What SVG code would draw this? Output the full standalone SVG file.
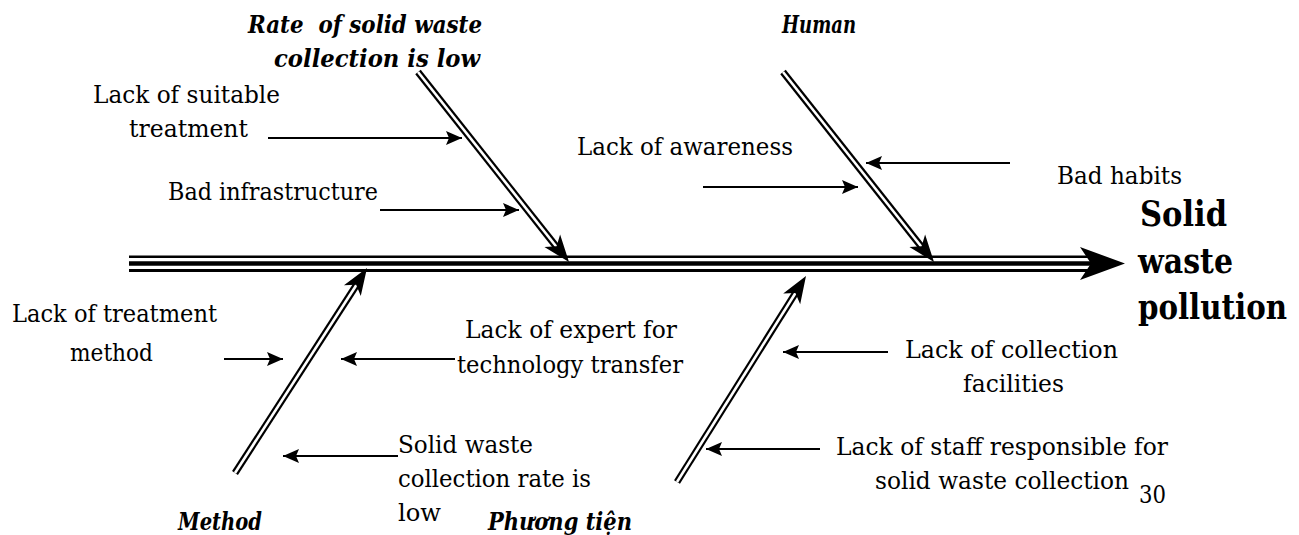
<svg xmlns="http://www.w3.org/2000/svg" width="1299" height="535" viewBox="0 0 1299 535">
  <style>
    text { font-family: "DejaVu Serif", "Liberation Serif", serif; fill: #000; }
    .lbl { font-size: 25px; }
    .cat { font-size: 25px; font-weight: bold; font-style: italic; }
    .effect { font-size: 36px; font-weight: bold; }
    .rib-out { stroke: #000; stroke-width: 7; fill: none; stroke-linecap: butt; }
    .rib-in { stroke: #fff; stroke-width: 2.6; fill: none; stroke-linecap: butt; }
    .cause { stroke: #000; stroke-width: 2; fill: none; marker-end: url(#small-head); }
    .head { fill: #000; }
  </style>
  <defs>
    <marker id="small-head" markerUnits="userSpaceOnUse" markerWidth="20" markerHeight="16" viewBox="-17 -8 18 16" refX="0" refY="0" orient="auto">
      <path d="M0,0 L-16,-7 L-13,0 L-16,7 Z" fill="#000"/>
    </marker>
    <path id="rib-head" d="M0,0 L-27,-10 L-20,0 L-27,10 Z"/>
  </defs>

  <rect width="1299" height="535" fill="#fff"/>

  <!-- main spine: triple line with arrowhead -->
  <g id="spine">
    <line x1="129" y1="256.7" x2="1094" y2="256.7" stroke="#000" stroke-width="2.6"/>
    <line x1="129" y1="263.5" x2="1094" y2="263.5" stroke="#000" stroke-width="4.5"/>
    <line x1="129" y1="270.5" x2="1094" y2="270.5" stroke="#000" stroke-width="2.8"/>
    <path class="head" d="M1125,263.5 L1080,247 L1091,263.5 L1080,280 Z"/>
  </g>

  <!-- category ribs (double lines) -->
  <g id="connectors">
    <g id="rib-rate">
      <line class="rib-out" x1="418" y1="72" x2="559" y2="250"/>
      <line class="rib-in" x1="418" y1="72" x2="559" y2="250"/>
      <use href="#rib-head" class="head" transform="translate(569,262) rotate(51.7)"/>
    </g>
    <g id="rib-human">
      <line class="rib-out" x1="783" y1="72" x2="924" y2="250"/>
      <line class="rib-in" x1="783" y1="72" x2="924" y2="250"/>
      <use href="#rib-head" class="head" transform="translate(934,262) rotate(51.7)"/>
    </g>
    <g id="rib-method">
      <line class="rib-out" x1="235" y1="473" x2="359" y2="281"/>
      <line class="rib-in" x1="235" y1="473" x2="359" y2="281"/>
      <use href="#rib-head" class="head" transform="translate(367,268) rotate(-57.2)"/>
    </g>
    <g id="rib-means">
      <line class="rib-out" x1="677" y1="482" x2="798" y2="289"/>
      <line class="rib-in" x1="677" y1="482" x2="798" y2="289"/>
      <use href="#rib-head" class="head" transform="translate(806,276) rotate(-58)"/>
    </g>

    <!-- cause arrows -->
    <line class="cause" x1="268" y1="138" x2="462" y2="138"/>
    <line class="cause" x1="380" y1="210" x2="519" y2="210"/>
    <line class="cause" x1="703" y1="187" x2="858" y2="187"/>
    <line class="cause" x1="1010" y1="163" x2="866" y2="163"/>
    <line class="cause" x1="224" y1="359" x2="283" y2="359"/>
    <line class="cause" x1="455" y1="359" x2="341" y2="359"/>
    <line class="cause" x1="398" y1="456" x2="283" y2="456"/>
    <line class="cause" x1="888" y1="352" x2="783" y2="352"/>
    <line class="cause" x1="820" y1="449" x2="706" y2="449"/>
  </g>

  <!-- effect -->
  <g id="node-effect">
    <text class="effect" x="1140" y="226" textLength="87" lengthAdjust="spacingAndGlyphs">Solid</text>
    <text class="effect" x="1138" y="273" textLength="95" lengthAdjust="spacingAndGlyphs">waste</text>
    <text class="effect" x="1138" y="319" textLength="149" lengthAdjust="spacingAndGlyphs">pollution</text>
  </g>

  <!-- category heads -->
  <g id="node-rate">
    <text class="cat" x="248" y="33" xml:space="preserve" textLength="234" lengthAdjust="spacingAndGlyphs">Rate  of solid waste</text>
    <text class="cat" x="274" y="67" textLength="206" lengthAdjust="spacingAndGlyphs">collection is low</text>
  </g>
  <g id="node-human">
    <text class="cat" x="782" y="33" textLength="74" lengthAdjust="spacingAndGlyphs">Human</text>
  </g>
  <g id="node-method">
    <text class="cat" x="178" y="530" textLength="84" lengthAdjust="spacingAndGlyphs">Method</text>
  </g>
  <g id="node-means">
    <text class="cat" x="488" y="530" textLength="144" lengthAdjust="spacingAndGlyphs">Phương tiện</text>
  </g>

  <!-- causes -->
  <g id="cause-suitable-treatment">
    <text class="lbl" x="93" y="103" textLength="187" lengthAdjust="spacingAndGlyphs">Lack of suitable</text>
    <text class="lbl" x="129" y="137" textLength="119" lengthAdjust="spacingAndGlyphs">treatment</text>
  </g>
  <g id="cause-infrastructure">
    <text class="lbl" x="168" y="200" textLength="210" lengthAdjust="spacingAndGlyphs">Bad infrastructure</text>
  </g>
  <g id="cause-awareness">
    <text class="lbl" x="577" y="155" textLength="216" lengthAdjust="spacingAndGlyphs">Lack of awareness</text>
  </g>
  <g id="cause-habits">
    <text class="lbl" x="1057" y="184" textLength="125" lengthAdjust="spacingAndGlyphs">Bad habits</text>
  </g>
  <g id="cause-treatment-method">
    <text class="lbl" x="12" y="322" textLength="205" lengthAdjust="spacingAndGlyphs">Lack of treatment</text>
    <text class="lbl" x="70" y="361" textLength="83" lengthAdjust="spacingAndGlyphs">method</text>
  </g>
  <g id="cause-expert">
    <text class="lbl" x="465" y="338" textLength="212" lengthAdjust="spacingAndGlyphs">Lack of expert for</text>
    <text class="lbl" x="457" y="373" textLength="226" lengthAdjust="spacingAndGlyphs">technology transfer</text>
  </g>
  <g id="cause-collection-rate">
    <text class="lbl" x="398" y="453" textLength="135" lengthAdjust="spacingAndGlyphs">Solid waste</text>
    <text class="lbl" x="398" y="487" textLength="193" lengthAdjust="spacingAndGlyphs">collection rate is</text>
    <text class="lbl" x="398" y="521" textLength="43" lengthAdjust="spacingAndGlyphs">low</text>
  </g>
  <g id="cause-facilities">
    <text class="lbl" x="905" y="358" textLength="213" lengthAdjust="spacingAndGlyphs">Lack of collection</text>
    <text class="lbl" x="963" y="392" textLength="101" lengthAdjust="spacingAndGlyphs">facilities</text>
  </g>
  <g id="cause-staff">
    <text class="lbl" x="836" y="455" textLength="332" lengthAdjust="spacingAndGlyphs">Lack of staff responsible for</text>
    <text class="lbl" x="875" y="489" textLength="254" lengthAdjust="spacingAndGlyphs">solid waste collection</text>
  </g>

  <text class="lbl" x="1139" y="503" textLength="27" lengthAdjust="spacingAndGlyphs">30</text>
</svg>
